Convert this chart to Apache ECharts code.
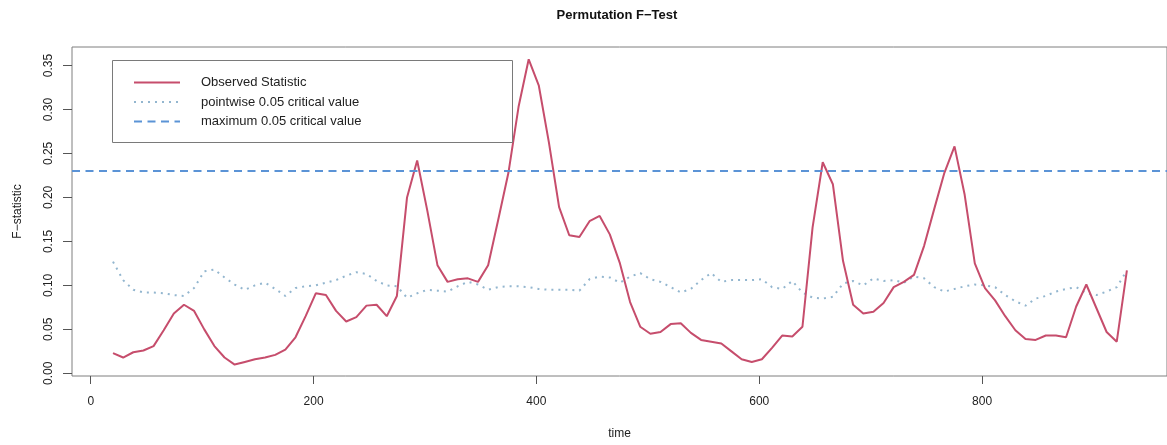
<!DOCTYPE html>
<html>
<head>
<meta charset="utf-8">
<style>
html,body{margin:0;padding:0;background:#fff;}
#chart{width:1167px;height:445px;}
</style>
<script src="https://cdn.jsdelivr.net/npm/echarts@6/dist/echarts.min.js"></script>
</head>
<body>
<div id="chart"></div>
<script>
const times = [20, 29.1, 38.2, 47.3, 56.4, 65.5, 74.6, 83.7, 92.8, 101.9,
  111, 120.1, 129.2, 138.3, 147.4, 156.5, 165.6, 174.7, 183.8, 192.9,
  202, 211.1, 220.2, 229.3, 238.4, 247.5, 256.6, 265.7, 274.8, 283.9,
  293, 302.1, 311.2, 320.3, 329.4, 338.5, 347.6, 356.7, 365.8, 374.9,
  384, 393.1, 402.2, 411.3, 420.4, 429.5, 438.6, 447.7, 456.8, 465.9,
  475, 484.1, 493.2, 502.3, 511.4, 520.5, 529.6, 538.7, 547.8, 556.9,
  566, 575.1, 584.2, 593.3, 602.4, 611.5, 620.6, 629.7, 638.8, 647.9,
  657, 666.1, 675.2, 684.3, 693.4, 702.5, 711.6, 720.7, 729.8, 738.9,
  748, 757.1, 766.2, 775.3, 784.4, 793.5, 802.6, 811.7, 820.8, 829.9,
  839, 848.1, 857.2, 866.3, 875.4, 884.5, 893.6, 902.7, 911.8, 920.9,
  930];

const observed = [0.023, 0.018, 0.024, 0.026, 0.031, 0.049, 0.068, 0.078, 0.071, 0.050,
  0.031, 0.018, 0.010, 0.013, 0.016, 0.018, 0.021, 0.027, 0.041, 0.065,
  0.091, 0.089, 0.071, 0.059, 0.064, 0.077, 0.078, 0.065, 0.088, 0.200,
  0.242, 0.185, 0.123, 0.104, 0.107, 0.108, 0.104, 0.123, 0.175, 0.228,
  0.303, 0.357, 0.327, 0.262, 0.189, 0.157, 0.155, 0.173, 0.179, 0.158,
  0.125, 0.081, 0.053, 0.045, 0.047, 0.056, 0.057, 0.046, 0.038, 0.036,
  0.034, 0.025, 0.016, 0.013, 0.016, 0.029, 0.043, 0.042, 0.053, 0.166,
  0.240, 0.215, 0.128, 0.078, 0.068, 0.070, 0.080, 0.098, 0.104, 0.112,
  0.145, 0.187, 0.228, 0.258, 0.203, 0.125, 0.097, 0.083, 0.065, 0.049,
  0.039, 0.038, 0.043, 0.043, 0.041, 0.076, 0.101, 0.074, 0.047, 0.036,
  0.117];

const pointwise = [0.127, 0.106, 0.095, 0.092, 0.092, 0.091, 0.089, 0.088, 0.097, 0.116,
  0.118, 0.109, 0.101, 0.095, 0.100, 0.103, 0.096, 0.088, 0.097, 0.099,
  0.100, 0.103, 0.106, 0.111, 0.115, 0.113, 0.105, 0.100, 0.099, 0.086,
  0.091, 0.095, 0.094, 0.093, 0.099, 0.104, 0.101, 0.095, 0.098, 0.099,
  0.099, 0.098, 0.096, 0.095, 0.095, 0.095, 0.094, 0.107, 0.110, 0.109,
  0.103, 0.110, 0.114, 0.107, 0.104, 0.098, 0.092, 0.096, 0.106, 0.114,
  0.104, 0.106, 0.106, 0.106, 0.107, 0.098, 0.096, 0.105, 0.092, 0.086,
  0.085, 0.087, 0.102, 0.105, 0.100, 0.108, 0.105, 0.106, 0.103, 0.110,
  0.108, 0.098, 0.093, 0.096, 0.099, 0.101, 0.100, 0.098, 0.089, 0.082,
  0.077, 0.085, 0.088, 0.093, 0.096, 0.098, 0.091, 0.089, 0.093, 0.098,
  0.117];

const maxCritical = 0.228;

const xTicks = [0, 200, 400, 600, 800];
const yTicks = [0, 0.05, 0.10, 0.15, 0.20, 0.25, 0.30, 0.35];

const seriesNames = ['Observed Statistic', 'pointwise 0.05 critical value', 'maximum 0.05 critical value'];

const FONT = '"Liberation Sans", Arial, Helvetica, sans-serif';
const RED = '#c64d6c';
const DOT = '#93b6cf';
const DASH = '#5b93d6';

const chart = echarts.init(document.getElementById('chart'), null, {renderer: 'canvas'});

const option = {
  animation: false,
  backgroundColor: '#ffffff',
  title: {
    text: 'Permutation F\u2212Test',
    left: 617,
    top: 9,
    textAlign: 'center',
    padding: 0,
    textStyle: {fontFamily: FONT, fontSize: 13, fontWeight: 'bold', color: '#111'}
  },
  legend: {
    data: seriesNames,
    orient: 'vertical',
    left: 133,
    top: 76,
    padding: 0,
    itemWidth: 46,
    itemHeight: 14,
    itemGap: 6.5,
    itemStyle: {opacity: 0},
    textStyle: {fontFamily: FONT, fontSize: 13, color: '#222', padding: [0, 0, 0, 16]},
    selectedMode: false
  },
  graphic: [{
    type: 'rect',
    shape: {x: 112.5, y: 60.5, width: 400, height: 82},
    style: {fill: null, stroke: '#7a7a7a', lineWidth: 1},
    silent: true,
    z: 10
  }],
  grid: {
    left: 72,
    top: 47,
    width: 1098,
    height: 333,
    show: true,
    borderColor: '#7f7f7f',
    borderWidth: 1,
    backgroundColor: 'transparent'
  },
  xAxis: {
    type: 'value',
    min: -16.8,
    max: 966,
    name: 'time',
    nameLocation: 'middle',
    nameGap: 52,
    nameTextStyle: {fontFamily: FONT, fontSize: 12, color: '#222'},
    axisLine: {show: false, onZero: false},
    splitLine: {show: false},
    axisTick: {show: true, inside: false, length: 8, customValues: xTicks, lineStyle: {color: '#555'}},
    axisLabel: {show: true, customValues: xTicks, margin: 20, fontFamily: FONT, fontSize: 12, color: '#222'}
  },
  yAxis: {
    type: 'value',
    min: -0.003,
    max: 0.371,
    name: 'F\u2212statistic',
    nameLocation: 'middle',
    nameGap: 48,
    nameRotate: 90,
    nameTextStyle: {fontFamily: FONT, fontSize: 12, color: '#222'},
    axisLine: {show: false, onZero: false},
    splitLine: {show: false},
    axisTick: {show: true, inside: false, length: 9, customValues: yTicks, lineStyle: {color: '#555'}},
    axisLabel: {
      show: true, customValues: yTicks, rotate: 90, margin: 17,
      fontFamily: FONT, fontSize: 12, color: '#222',
      formatter: v => Number(v).toFixed(2)
    }
  },
  series: [
    {
      name: seriesNames[0],
      type: 'line',
      data: times.map((t, i) => [t, observed[i]]),
      symbol: 'none',
      showSymbol: false,
      lineStyle: {color: RED, width: 2},
      itemStyle: {color: RED},
      z: 3
    },
    {
      name: seriesNames[1],
      type: 'line',
      data: times.map((t, i) => [t, pointwise[i]]),
      symbol: 'none',
      showSymbol: false,
      lineStyle: {color: DOT, width: 2, type: [2, 5]},
      itemStyle: {color: DOT},
      z: 2
    },
    {
      name: seriesNames[2],
      type: 'line',
      data: [],
      symbol: 'none',
      lineStyle: {color: DASH, width: 2, type: [8, 5.5]},
      itemStyle: {color: DASH},
      markLine: {
        silent: true,
        symbol: ['none', 'none'],
        label: {show: false},
        lineStyle: {color: DASH, width: 1.8, type: [8, 5.5]},
        data: [{yAxis: maxCritical}]
      },
      z: 2
    }
  ]
};

chart.setOption(option);
</script>
</body>
</html>
